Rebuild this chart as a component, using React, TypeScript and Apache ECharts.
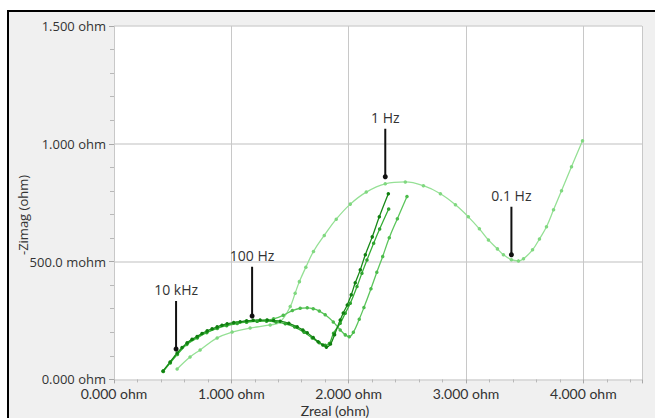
import React, { useEffect, useRef } from "react";
import * as echarts from "echarts";

// Axis tick labels
const xTickLabels = ["0.000 ohm", "1.000 ohm", "2.000 ohm", "3.000 ohm", "4.000 ohm"];
const yTickLabels = ["0.000 ohm", "500.0 mohm", "1.000 ohm", "1.500 ohm"];

// Series data: [Zreal (ohm), -Zimag (ohm)]
const seriesA: number[][] = [
  [0.418, 0.036], [0.478, 0.074], [0.538, 0.112], [0.58, 0.135], [0.623, 0.155], [0.665, 0.17],
  [0.708, 0.182], [0.75, 0.195], [0.794, 0.206], [0.836, 0.215], [0.879, 0.223], [0.92, 0.23],
  [0.964, 0.236], [1.02, 0.241], [1.075, 0.245], [1.13, 0.249], [1.186, 0.251], [1.245, 0.252],
  [1.306, 0.252], [1.36, 0.25], [1.416, 0.247], [1.49, 0.238], [1.561, 0.223], [1.61, 0.21],
  [1.647, 0.198], [1.698, 0.178], [1.74, 0.16], [1.78, 0.146], [1.81, 0.137], [1.845, 0.15],
  [1.88, 0.19], [1.928, 0.252], [1.954, 0.282], [1.988, 0.316], [2.022, 0.359], [2.056, 0.41],
  [2.099, 0.465], [2.142, 0.529], [2.201, 0.605], [2.261, 0.69], [2.338, 0.788],
];
const seriesB: number[][] = [
  [0.42, 0.034], [0.48, 0.072], [0.54, 0.108], [0.62, 0.15], [0.71, 0.178], [0.79, 0.2],
  [0.88, 0.218], [0.96, 0.23], [1.05, 0.239], [1.13, 0.244], [1.22, 0.247], [1.3, 0.247],
  [1.38, 0.244], [1.46, 0.236], [1.54, 0.222], [1.62, 0.2], [1.69, 0.176], [1.75, 0.156],
  [1.8, 0.145], [1.835, 0.152], [1.871, 0.196], [1.928, 0.238], [1.971, 0.281], [2.014, 0.323],
  [2.071, 0.394], [2.113, 0.451], [2.156, 0.507], [2.213, 0.578], [2.264, 0.638], [2.341, 0.723],
];
const seriesC: number[][] = [
  [0.42, 0.035], [0.48, 0.07], [0.54, 0.106], [0.62, 0.148], [0.71, 0.176], [0.79, 0.198],
  [0.88, 0.216], [0.96, 0.228], [1.05, 0.237], [1.13, 0.243], [1.22, 0.247], [1.3, 0.251],
  [1.36, 0.257], [1.442, 0.272], [1.52, 0.292], [1.587, 0.302], [1.647, 0.304], [1.698, 0.3],
  [1.75, 0.29], [1.8, 0.274], [1.869, 0.244], [1.928, 0.21], [1.971, 0.189], [2.005, 0.181],
  [2.04, 0.2], [2.09, 0.255], [2.13, 0.305], [2.19, 0.385], [2.24, 0.455], [2.29, 0.522],
  [2.346, 0.601], [2.415, 0.682], [2.497, 0.776],
];
const seriesD: number[][] = [
  [0.538, 0.044], [0.648, 0.095], [0.734, 0.125], [0.879, 0.176], [1.007, 0.201], [1.16, 0.218],
  [1.331, 0.231], [1.416, 0.244], [1.502, 0.309], [1.544, 0.366], [1.58, 0.415], [1.635, 0.476],
  [1.7, 0.543], [1.792, 0.611], [1.894, 0.68], [2.014, 0.744], [2.15, 0.795], [2.312, 0.83],
  [2.483, 0.838], [2.637, 0.822], [2.782, 0.788], [2.91, 0.741], [3.02, 0.69], [3.114, 0.639],
  [3.191, 0.592], [3.268, 0.554], [3.319, 0.529], [3.387, 0.508], [3.447, 0.503], [3.49, 0.512],
  [3.567, 0.55], [3.626, 0.596], [3.686, 0.648], [3.746, 0.72], [3.814, 0.801], [3.899, 0.903],
  [3.993, 1.013],
];

// Frequency annotations: text, x, top of pointer, tip of pointer
const annotations = [
  { text: "10 kHz", x: 0.529, top: 0.333, tip: 0.129 },
  { text: "100 Hz", x: 1.177, top: 0.478, tip: 0.269 },
  { text: "1 Hz", x: 2.312, top: 1.064, tip: 0.86 },
  { text: "0.1 Hz", x: 3.387, top: 0.733, tip: 0.529 },
];

const seriesDefs = [
  { name: "D", data: seriesD, line: "#95e095", dot: "#80d880" },
  { name: "C", data: seriesC, line: "#5cc55c", dot: "#4cbc4c" },
  { name: "B", data: seriesB, line: "#35ae35", dot: "#2ea42e" },
  { name: "A", data: seriesA, line: "#178917", dot: "#107f10" },
];

export default function App() {
  const ref = useRef<HTMLDivElement>(null);

  useEffect(() => {
    if (!ref.current) return;
    const chart = echarts.init(ref.current, undefined, { renderer: "svg" });

    const dataSeries = seriesDefs.map((s) => ({
      type: "line",
      name: s.name,
      data: s.data,
      smooth: 0.4,
      symbol: "circle",
      symbolSize: 3.5,
      showSymbol: true,
      lineStyle: { color: s.line, width: 1.3 },
      itemStyle: { color: s.dot },
      z: 3,
    }));

    const annSeries = annotations.map((a) => ({
      type: "line",
      data: [
        {
          value: [a.x, a.top],
          symbol: "circle",
          symbolSize: 1,
          itemStyle: { color: "rgba(0,0,0,0)" },
          label: {
            show: true,
            position: "top",
            distance: 4,
            formatter: a.text,
            color: "#333",
            fontFamily: "Open Sans",
            fontSize: 14,
          },
        },
        {
          value: [a.x, a.tip],
          symbol: "circle",
          symbolSize: 5,
          itemStyle: { color: "#111" },
        },
      ],
      lineStyle: { color: "#111", width: 2 },
      z: 10,
    }));

    chart.setOption({
      animation: false,
      backgroundColor: "transparent",
      grid: {
        left: 114,
        top: 26,
        width: 528,
        height: 353.4,
        show: true,
        backgroundColor: "#ffffff",
        borderWidth: 0,
      },
      xAxis: {
        type: "value",
        min: 0,
        max: 4.5,
        interval: 1,
        axisLine: { show: false },
        axisTick: { show: true, length: 4, lineStyle: { color: "#a8a8a8" } },
        minorTick: { show: true, splitNumber: 5, length: 3, lineStyle: { color: "#b8b8b8" } },
        splitLine: { show: true, lineStyle: { color: "#c8c8c8", width: 1 } },
        axisLabel: {
          margin: 7,
          color: "#333",
          fontFamily: "Lato",
          fontSize: 14,
          showMaxLabel: false,
          formatter: (v: number) => xTickLabels[Math.round(v)] ?? "",
        },
      },
      yAxis: {
        type: "value",
        min: 0,
        max: 1.5,
        interval: 0.5,
        axisLine: { show: false },
        axisTick: { show: true, length: 5, lineStyle: { color: "#a8a8a8" } },
        minorTick: { show: true, splitNumber: 5, length: 4, lineStyle: { color: "#b8b8b8" } },
        splitLine: { show: true, lineStyle: { color: "#d4d4d4", width: 1.5 } },
        axisLabel: {
          margin: 8,
          color: "#333",
          fontFamily: "Open Sans",
          fontSize: 13,
          formatter: (v: number) => yTickLabels[Math.round(v / 0.5)] ?? "",
        },
      },
      graphic: [
        {
          type: "text",
          x: 335,
          y: 410,
          style: {
            text: "Zreal (ohm)",
            fill: "#333",
            font: '14px "Lato"',
            textAlign: "center",
            textVerticalAlign: "middle",
          },
        },
        {
          type: "text",
          x: 22.5,
          y: 215,
          rotation: Math.PI / 2,
          style: {
            text: "-Zimag (ohm)",
            fill: "#333",
            font: '13px "Open Sans"',
            textAlign: "center",
            textVerticalAlign: "middle",
          },
        },
      ],
      series: [...dataSeries, ...annSeries],
    });

    return () => chart.dispose();
  }, []);

  return (
    <div style={{ position: "fixed", left: 0, top: 0, width: 655, height: 418, background: "#fff", overflow: "hidden" }}>
      <div
        style={{
          position: "absolute",
          left: 7,
          top: 10,
          width: 660,
          height: 420,
          background: "#f0f0f0",
          borderLeft: "2px solid #000",
          borderTop: "2px solid #000",
        }}
      />
      <div ref={ref} style={{ position: "absolute", left: 0, top: 0, width: 655, height: 418 }} />
    </div>
  );
}
